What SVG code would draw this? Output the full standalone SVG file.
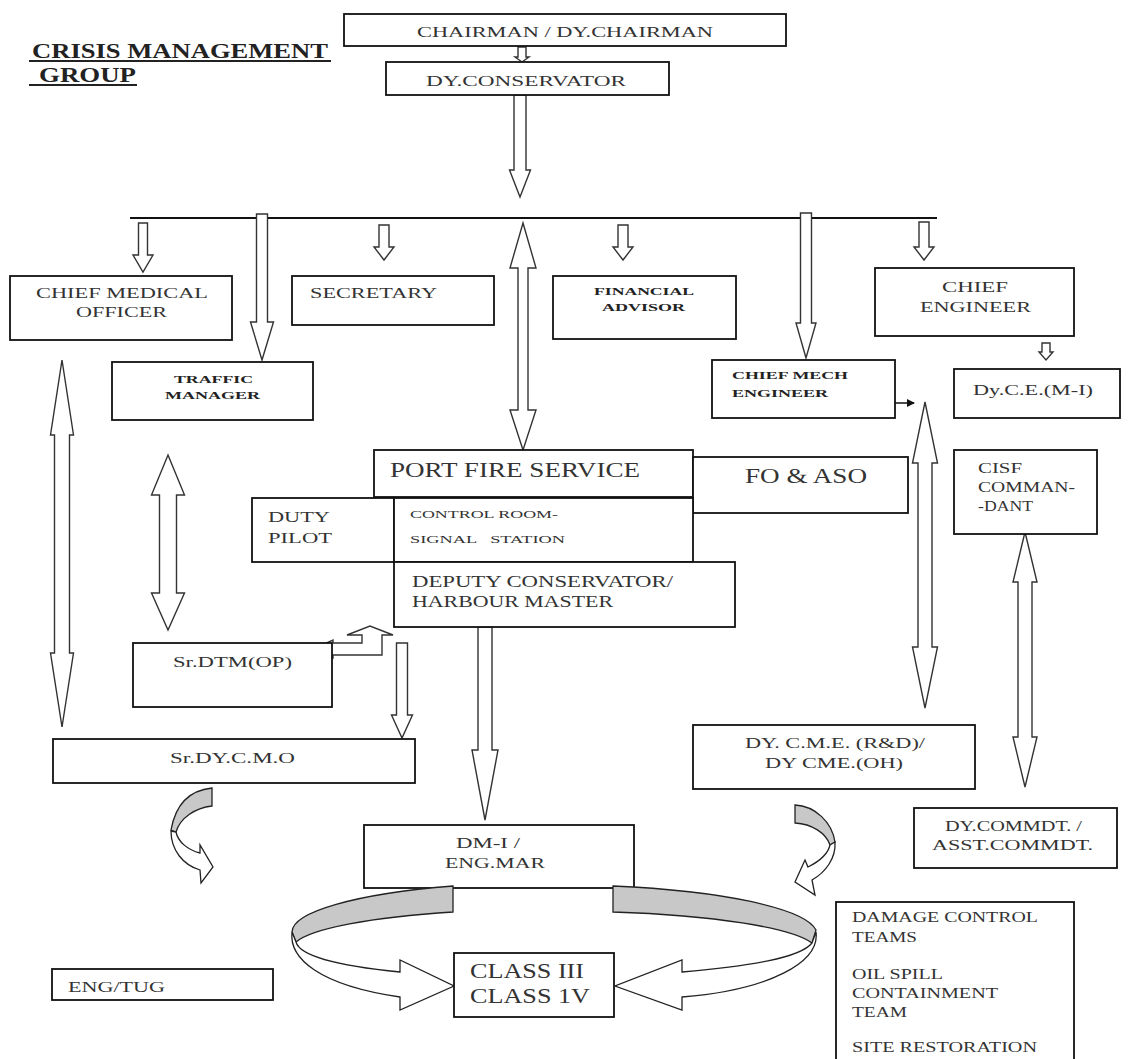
<svg xmlns="http://www.w3.org/2000/svg" width="1130" height="1059" viewBox="0 0 1130 1059">
<style>
.box{fill:#fff;stroke:#111;stroke-width:1.8}
.t{font-family:"Liberation Serif","Times New Roman",serif;fill:#333;font-size:15px}
.b{font-weight:bold;font-size:11px;fill:#222}
.ar{fill:#fff;stroke:#333;stroke-width:1.4;stroke-linejoin:miter}
.band{fill:#c8c8c8;stroke:#222;stroke-width:1.3}
.wb{fill:#fff;stroke:#222;stroke-width:1.3}
</style>
<defs>
<marker id="tri" markerWidth="8" markerHeight="8" refX="7" refY="4" orient="auto" markerUnits="userSpaceOnUse">
<path d="M0,0 L8,4 L0,8 Z" fill="#111"/>
</marker>
</defs>
<rect width="1130" height="1059" fill="#fff"/>

<g id="title">
<text class="t" x="32" y="58" style="font-size:22px;font-weight:bold;fill:#222" textLength="296" lengthAdjust="spacingAndGlyphs">CRISIS MANAGEMENT</text>
<text class="t" x="39" y="82" style="font-size:22px;font-weight:bold;fill:#222" textLength="97" lengthAdjust="spacingAndGlyphs">GROUP</text>
<line x1="29" y1="61" x2="331" y2="61" stroke="#222" stroke-width="2"/>
<line x1="29" y1="85" x2="137" y2="85" stroke="#222" stroke-width="2"/>
</g>

<g id="connectors">
<line x1="130" y1="218" x2="937" y2="218" stroke="#111" stroke-width="2"/>
<polygon class="ar" points="514,95 526,95 526,170 530.5,170 520,197 509.5,170 514,170"/>
<polygon class="ar" points="518,47 526,47 526,57 529,57 522,62 515,57 518,57"/>
<polygon class="ar" points="138.5,223 147.5,223 147.5,255 153,255 143,272 133,255 138.5,255"/>
<polygon class="ar" points="256.5,214 267.5,214 267.5,322 273.5,322 262,360 250.5,322 256.5,322"/>
<polygon class="ar" points="379,225 389,225 389,247 394,247 384,260 374,247 379,247"/>
<polygon class="ar" points="523,223 536,268 528,268 528,410 536,410 523,450 510,410 518,410 518,268 510,268"/>
<polygon class="ar" points="618,225 628,225 628,247 633,247 623,260 613,247 618,247"/>
<polygon class="ar" points="800.5,213 811.5,213 811.5,323 816,323 806,358 796,323 800.5,323"/>
<polygon class="ar" points="919,222 929,222 929,247 934,247 924,260 914,247 919,247"/>
<polygon class="ar" points="1042,343 1050,343 1050,352 1053,352 1046,360 1039,352 1042,352"/>
<polygon class="ar" points="62,360 73.5,435 69.5,435 69.5,653 73.5,653 62,727 50.5,653 54.5,653 54.5,435 50.5,435"/>
<polygon class="ar" points="168,455 184.5,495 176.5,495 176.5,593 184.5,593 168,630 151.5,593 159.5,593 159.5,495 151.5,495"/>
<polygon class="ar" points="925,402 937.5,463 932,463 932,647 937.5,647 925,708 912.5,647 918,647 918,463 912.5,463"/>
<polygon class="ar" points="1025,532 1037,582 1032,582 1032,737 1037,737 1025,787 1013,737 1018,737 1018,582 1013,582"/>
<polygon class="ar" points="396.5,643 407.5,643 407.5,715 412.5,715 402,738 391.5,715 396.5,715"/>
<polygon class="ar" points="478,627 492,627 492,750 498,750 485,820 472,750 478,750"/>
<polygon class="ar" points="313,649 333,640 333,643 362,643 362,635 347,635 370,626 393,635 382,635 382,655 333,655 333,658"/>
<line x1="895" y1="403" x2="914" y2="403" stroke="#111" stroke-width="1.5" marker-end="url(#tri)"/>
<path class="band" d="M212,788 C192,790 176,802 171,830 L176,832 C180,818 195,808 212,806 Z"/>
<path class="wb" d="M171,831 C171,850 183,865 200,870 L201,883 L213,867 L200,845 L200,853 C188,850 178,842 176,832 Z"/>
<path class="band" d="M795,805 C815,806 832,822 835,842 L830,845 C826,833 812,824 795,823 Z"/>
<path class="wb" d="M835,842 C836,858 826,872 812,880 L815,895 L795,882 L805,860 L808,867 C818,862 828,854 830,845 Z"/>
</g>

<g id="chairman"><rect class="box" x="344" y="14" width="442" height="32"/><text class="t" x="417" y="37" textLength="296" lengthAdjust="spacingAndGlyphs">CHAIRMAN / DY.CHAIRMAN</text></g>
<g id="dy-conservator"><rect class="box" x="386" y="62" width="283" height="33"/><text class="t" x="426" y="86" textLength="200" lengthAdjust="spacingAndGlyphs">DY.CONSERVATOR</text></g>
<g id="chief-medical-officer"><rect class="box" x="10" y="276" width="222" height="64"/><text class="t" x="36" y="298" textLength="172" lengthAdjust="spacingAndGlyphs">CHIEF MEDICAL</text><text class="t" x="76" y="317" textLength="91" lengthAdjust="spacingAndGlyphs">OFFICER</text></g>
<g id="secretary"><rect class="box" x="292" y="276" width="202" height="49"/><text class="t" x="310" y="298" textLength="127" lengthAdjust="spacingAndGlyphs">SECRETARY</text></g>
<g id="traffic-manager"><rect class="box" x="112" y="362" width="201" height="58"/><text class="t b" x="174" y="383" textLength="79" lengthAdjust="spacingAndGlyphs">TRAFFIC</text><text class="t b" x="165" y="399" textLength="95" lengthAdjust="spacingAndGlyphs">MANAGER</text></g>
<g id="financial-advisor"><rect class="box" x="553" y="276" width="183" height="63"/><text class="t b" x="594" y="295" textLength="100" lengthAdjust="spacingAndGlyphs">FINANCIAL</text><text class="t b" x="602" y="311" textLength="83" lengthAdjust="spacingAndGlyphs">ADVISOR</text></g>
<g id="chief-engineer"><rect class="box" x="875" y="268" width="199" height="68"/><text class="t" x="942" y="292" textLength="66" lengthAdjust="spacingAndGlyphs">CHIEF</text><text class="t" x="920" y="312" textLength="111" lengthAdjust="spacingAndGlyphs">ENGINEER</text></g>
<g id="chief-mech-engineer"><rect class="box" x="712" y="360" width="183" height="58"/><text class="t b" x="732" y="379" textLength="116" lengthAdjust="spacingAndGlyphs">CHIEF MECH</text><text class="t b" x="732" y="397" textLength="96" lengthAdjust="spacingAndGlyphs">ENGINEER</text></g>
<g id="dy-ce"><rect class="box" x="954" y="369" width="166" height="49"/><text class="t" x="973" y="395" textLength="120" lengthAdjust="spacingAndGlyphs">Dy.C.E.(M-I)</text></g>
<g id="port-fire-service"><rect class="box" x="374" y="450" width="319" height="47"/><text class="t" x="390" y="477" style="font-size:20px" textLength="250" lengthAdjust="spacingAndGlyphs">PORT FIRE SERVICE</text></g>
<g id="fo-aso"><rect class="box" x="693" y="457" width="215" height="56"/><text class="t" x="745" y="483" style="font-size:20px" textLength="122" lengthAdjust="spacingAndGlyphs">FO &amp; ASO</text></g>
<g id="duty-pilot"><rect class="box" x="252" y="498" width="142" height="64"/><text class="t" x="268" y="522" textLength="62" lengthAdjust="spacingAndGlyphs">DUTY</text><text class="t" x="268" y="543" textLength="64" lengthAdjust="spacingAndGlyphs">PILOT</text></g>
<g id="control-room"><rect class="box" x="394" y="498" width="299" height="64"/><text class="t" x="410" y="518" style="font-size:11px" textLength="148" lengthAdjust="spacingAndGlyphs">CONTROL ROOM-</text><text class="t" x="410" y="543" style="font-size:11px;white-space:pre" textLength="155" lengthAdjust="spacingAndGlyphs">SIGNAL   STATION</text></g>
<g id="deputy-conservator"><rect class="box" x="394" y="562" width="341" height="65"/><text class="t" x="412" y="587" style="font-size:16px" textLength="261" lengthAdjust="spacingAndGlyphs">DEPUTY CONSERVATOR/</text><text class="t" x="412" y="607" style="font-size:16px" textLength="201" lengthAdjust="spacingAndGlyphs">HARBOUR MASTER</text></g>
<g id="cisf-commandant"><rect class="box" x="954" y="450" width="143" height="84"/><text class="t" x="978" y="473" style="font-size:14px" textLength="44" lengthAdjust="spacingAndGlyphs">CISF</text><text class="t" x="978" y="492" style="font-size:14px" textLength="97" lengthAdjust="spacingAndGlyphs">COMMAN-</text><text class="t" x="978" y="511" style="font-size:14px" textLength="55" lengthAdjust="spacingAndGlyphs">-DANT</text></g>
<g id="sr-dtm"><rect class="box" x="133" y="643" width="199" height="64"/><text class="t" x="173" y="667" textLength="119" lengthAdjust="spacingAndGlyphs">Sr.DTM(OP)</text></g>
<g id="sr-dy-cmo"><rect class="box" x="53" y="739" width="362" height="44"/><text class="t" x="170" y="763" textLength="125" lengthAdjust="spacingAndGlyphs">Sr.DY.C.M.O</text></g>
<g id="dy-cme"><rect class="box" x="693" y="725" width="282" height="64"/><text class="t" x="745" y="748" textLength="180" lengthAdjust="spacingAndGlyphs">DY. C.M.E. (R&amp;D)/</text><text class="t" x="765" y="768" textLength="138" lengthAdjust="spacingAndGlyphs">DY CME.(OH)</text></g>
<g id="dy-commdt"><rect class="box" x="914" y="808" width="203" height="60"/><text class="t" x="945" y="831" textLength="137" lengthAdjust="spacingAndGlyphs">DY.COMMDT. /</text><text class="t" x="932" y="850" textLength="161" lengthAdjust="spacingAndGlyphs">ASST.COMMDT.</text></g>
<g id="dm-eng-mar"><rect class="box" x="364" y="825" width="270" height="63"/><text class="t" x="456" y="848" textLength="64" lengthAdjust="spacingAndGlyphs">DM-I /</text><text class="t" x="445" y="868" textLength="100" lengthAdjust="spacingAndGlyphs">ENG.MAR</text></g>

<g id="ring">
<path class="band" d="M453,886 A262,50 0 0 0 292,932 L296,942 A258,40 0 0 1 453,912 Z"/>
<path class="wb" d="M292,932 C289,958 318,985 400,997 L400,1010 L454,986 L400,960 L400,972 C340,966 300,957 296,942 Z"/>
<path class="band" d="M613,886 L613,912 A258,40 0 0 1 812,943 L816,930 A262,50 0 0 0 613,886 Z"/>
<path class="wb" d="M816,932 C820,962 770,990 682,997 L682,1010 L615,986 L682,960 L682,972 C750,966 800,958 812,943 Z"/>
</g>

<g id="class-iii-iv"><rect class="box" x="454" y="953" width="160" height="64"/><text class="t" x="470" y="978" style="font-size:22px" textLength="114" lengthAdjust="spacingAndGlyphs">CLASS III</text><text class="t" x="470" y="1003" style="font-size:22px" textLength="120" lengthAdjust="spacingAndGlyphs">CLASS 1V</text></g>
<g id="eng-tug"><rect class="box" x="52" y="969" width="221" height="31"/><text class="t" x="68" y="992" textLength="97" lengthAdjust="spacingAndGlyphs">ENG/TUG</text></g>
<g id="teams"><rect class="box" x="836" y="902" width="238" height="175"/>
<text class="t" x="852" y="922" textLength="186" lengthAdjust="spacingAndGlyphs">DAMAGE CONTROL</text>
<text class="t" x="852" y="942" textLength="65" lengthAdjust="spacingAndGlyphs">TEAMS</text>
<text class="t" x="852" y="979" textLength="91" lengthAdjust="spacingAndGlyphs">OIL SPILL</text>
<text class="t" x="852" y="998" textLength="146" lengthAdjust="spacingAndGlyphs">CONTAINMENT</text>
<text class="t" x="852" y="1017" textLength="55" lengthAdjust="spacingAndGlyphs">TEAM</text>
<text class="t" x="852" y="1052" textLength="185" lengthAdjust="spacingAndGlyphs">SITE RESTORATION</text>
</g>
</svg>
